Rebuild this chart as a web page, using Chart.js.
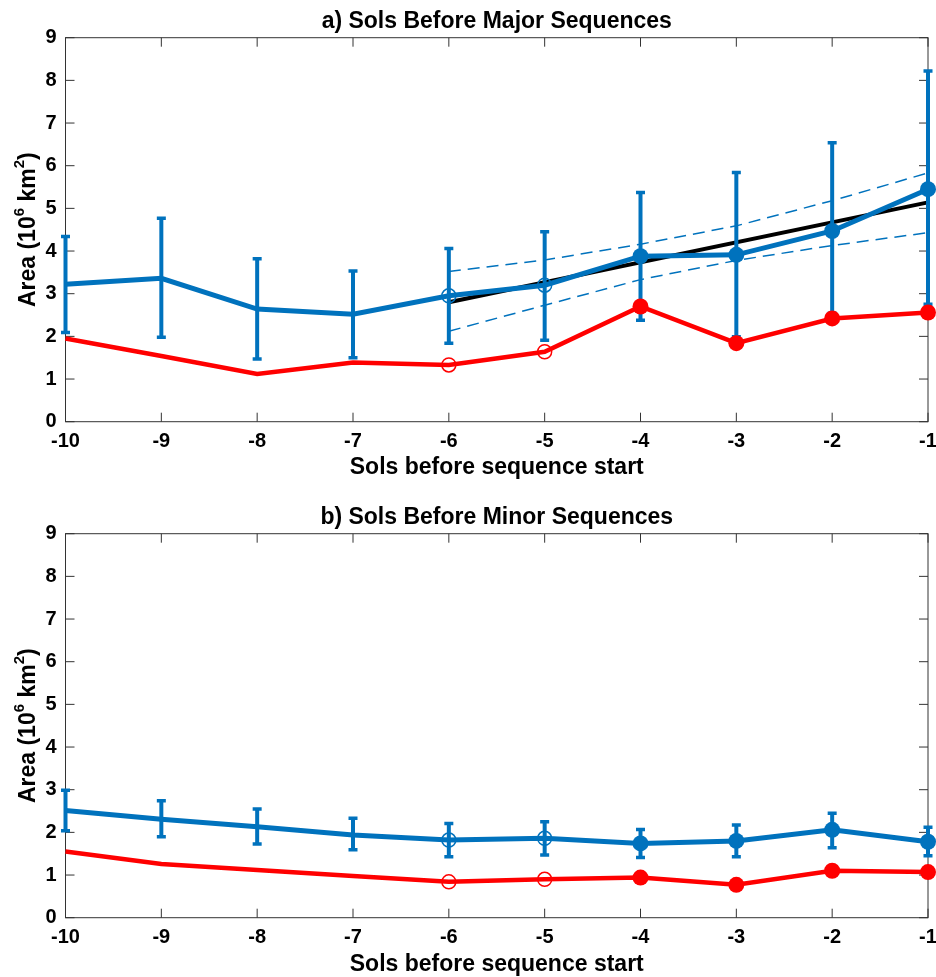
<!DOCTYPE html>
<html>
<head>
<meta charset="utf-8">
<title>Sols before sequences</title>
<script src="https://cdn.jsdelivr.net/npm/chart.js@4.4.1/dist/chart.umd.min.js"></script>
<style>
  html, body { margin: 0; padding: 0; background: #fff; }
  canvas { display: block; }
</style>
</head>
<body>
<canvas id="majorChart" width="936" height="490"></canvas>
<canvas id="minorChart" width="936" height="487"></canvas>
<script>
// x positions (sols before start) and axis ticks
const sols = [-10, -9, -8, -7, -6, -5, -4, -3, -2, -1];
const xTickValues = [-10, -9, -8, -7, -6, -5, -4, -3, -2, -1];
const yTickValues = [0, 1, 2, 3, 4, 5, 6, 7, 8, 9];

// a) major sequences
const majorMean = [3.22, 3.36, 2.64, 2.52, 2.95, 3.20, 3.88, 3.91, 4.47, 5.45];
const majorHigh = [4.34, 4.77, 3.82, 3.53, 4.06, 4.45, 5.37, 5.84, 6.54, 8.22];
const majorLow = [2.09, 1.98, 1.47, 1.50, 1.84, 1.91, 2.38, 1.99, 2.54, 2.75];
const majorRed = [1.95, 1.54, 1.12, 1.39, 1.33, 1.64, 2.70, 1.84, 2.42, 2.56];
const fitSols = [-6, -1];
const majorFit = [2.80, 5.14];
const bandSols = [-6, -5, -4, -3, -2, -1];
const majorUpper = [3.52, 3.79, 4.16, 4.59, 5.18, 5.83];
const majorLower = [2.12, 2.73, 3.33, 3.78, 4.13, 4.43];

// b) minor sequences
const minorMean = [2.51, 2.31, 2.13, 1.94, 1.82, 1.86, 1.74, 1.80, 2.06, 1.78];
const minorHigh = [2.99, 2.74, 2.55, 2.33, 2.21, 2.25, 2.07, 2.17, 2.45, 2.12];
const minorLow = [2.04, 1.90, 1.73, 1.59, 1.43, 1.47, 1.41, 1.43, 1.64, 1.45];
const minorRed = [1.55, 1.26, 1.12, 0.98, 0.84, 0.90, 0.94, 0.77, 1.10, 1.07];

// markers: open circles from -6, filled from -4
const openFrom = -6;
const filledFrom = -4;

// y label pieces: [text, superscript?]
const yLabelParts = [['Area (10', false], ['6', true], [' km', false], ['2', true], [')', false]];

const FONT = "'Liberation Sans', Arial, Helvetica, sans-serif";
const BLUE = '#0072BD';
const RED = '#FF0000';
const TICK = 9;

function points(xs, ys) {
    return xs.map((x, i) => ({ x: x, y: ys[i] }));
}

function markerOpts(color, size) {
    return {
        pointRadius: ctx => ctx.raw.x >= filledFrom ? size : (ctx.raw.x >= openFrom ? size - 1 : 0),
        pointBackgroundColor: ctx => ctx.raw.x >= filledFrom ? color : 'rgba(0,0,0,0)',
        pointBorderColor: color,
        pointBorderWidth: ctx => ctx.raw.x >= filledFrom ? 0 : 1.5,
        pointHoverRadius: 0
    };
}

// box around the plot area with inward ticks on all sides
const axesBox = {
    id: 'axesBox',
    beforeDatasetsDraw(chart) {
        const { ctx, chartArea: a, scales: { x, y } } = chart;
        ctx.save();
        ctx.strokeStyle = '#333';
        ctx.lineWidth = 1;
        ctx.strokeRect(a.left, a.top, a.right - a.left, a.bottom - a.top);
        ctx.beginPath();
        x.ticks.forEach(t => {
            const px = x.getPixelForValue(t.value);
            ctx.moveTo(px, a.bottom); ctx.lineTo(px, a.bottom - TICK);
            ctx.moveTo(px, a.top); ctx.lineTo(px, a.top + TICK);
        });
        y.ticks.forEach(t => {
            const py = y.getPixelForValue(t.value);
            ctx.moveTo(a.left, py); ctx.lineTo(a.left + TICK, py);
            ctx.moveTo(a.right, py); ctx.lineTo(a.right - TICK, py);
        });
        ctx.stroke();
        ctx.restore();
    }
};

const errorBars = {
    id: 'errorBars',
    afterDatasetDraw(chart, args) {
        const ds = chart.data.datasets[args.index];
        if (!ds.errHigh) return;
        const { ctx, scales: { x, y } } = chart;
        ctx.save();
        ctx.strokeStyle = ds.borderColor;
        ds.data.forEach((p, i) => {
            const px = x.getPixelForValue(p.x);
            const top = y.getPixelForValue(ds.errHigh[i]);
            const bot = y.getPixelForValue(ds.errLow[i]);
            ctx.lineWidth = 4;
            ctx.beginPath();
            ctx.moveTo(px, top); ctx.lineTo(px, bot);
            ctx.stroke();
            ctx.lineWidth = 3.5;
            ctx.beginPath();
            ctx.moveTo(px - 4.5, top); ctx.lineTo(px + 4.5, top);
            ctx.moveTo(px - 4.5, bot); ctx.lineTo(px + 4.5, bot);
            ctx.stroke();
        });
        ctx.restore();
    }
};

// title centred over the plot area, y label with real superscripts
const panelText = {
    id: 'panelText',
    afterDraw(chart, args, opts) {
        const { ctx, chartArea: a } = chart;
        ctx.save();
        ctx.fillStyle = '#000';
        ctx.font = 'bold 23px ' + FONT;
        ctx.textAlign = 'center';
        ctx.textBaseline = 'middle';
        ctx.fillText(opts.title, (a.left + a.right) / 2, opts.titleY);

        const big = 'bold 23px ' + FONT;
        const small = 'bold 15px ' + FONT;
        let total = 0;
        yLabelParts.forEach(([t, sup]) => {
            ctx.font = sup ? small : big;
            total += ctx.measureText(t).width;
        });
        ctx.translate(35, (a.top + a.bottom) / 2);
        ctx.rotate(-Math.PI / 2);
        ctx.textAlign = 'left';
        ctx.textBaseline = 'alphabetic';
        let u = -total / 2;
        yLabelParts.forEach(([t, sup]) => {
            ctx.font = sup ? small : big;
            ctx.fillText(t, u, sup ? -11 : 0);
            u += ctx.measureText(t).width;
        });
        ctx.restore();
    }
};

function makeChart(id, p) {
    const datasets = [];
    if (p.fit) {
        datasets.push({
            data: points(fitSols, p.fit), borderColor: '#000', borderWidth: 4,
            pointRadius: 0, order: 4
        });
        datasets.push({
            data: points(bandSols, p.upper), borderColor: BLUE, borderWidth: 1.5,
            borderDash: [12, 7], pointRadius: 0, order: 3
        });
        datasets.push({
            data: points(bandSols, p.lower), borderColor: BLUE, borderWidth: 1.5,
            borderDash: [12, 7], pointRadius: 0, order: 3
        });
    }
    datasets.push(Object.assign({
        data: points(sols, p.mean), borderColor: BLUE, borderWidth: 5,
        errHigh: p.high, errLow: p.low, order: 1
    }, markerOpts(BLUE, 8)));
    datasets.push(Object.assign({
        data: points(sols, p.red), borderColor: RED, borderWidth: 4.5, order: 0
    }, markerOpts(RED, 8)));

    datasets.forEach(d => { d.fill = false; d.tension = 0; d.clip = false; });

    return new Chart(document.getElementById(id), {
        type: 'line',
        data: { datasets: datasets },
        plugins: [axesBox, errorBars, panelText],
        options: {
            responsive: false,
            animation: false,
            events: [],
            layout: { padding: { top: p.top, right: 4, bottom: 0, left: 0 } },
            plugins: {
                legend: { display: false },
                tooltip: { enabled: false },
                panelText: { title: p.title, titleY: p.titleY }
            },
            scales: {
                x: {
                    type: 'linear', min: -10, max: -1,
                    afterBuildTicks: s => { s.ticks = xTickValues.map(v => ({ value: v })); },
                    afterFit: s => { s.height = p.xHeight; s.paddingLeft = 0; s.paddingRight = 0; },
                    grid: { display: false, drawTicks: false },
                    border: { display: false },
                    ticks: {
                        color: '#000', padding: 8, maxRotation: 0, autoSkip: false,
                        font: { family: FONT, size: 20, weight: 'bold', lineHeight: 1.2 },
                        callback: v => String(v)
                    },
                    title: {
                        display: true, text: 'Sols before sequence start', color: '#000',
                        font: { family: FONT, size: 23, weight: 'bold', lineHeight: 1.2 },
                        padding: { top: 0, bottom: p.xTitlePad }
                    }
                },
                y: {
                    type: 'linear', min: 0, max: 9,
                    afterBuildTicks: s => { s.ticks = yTickValues.map(v => ({ value: v })); },
                    afterFit: s => { s.width = 65.5; s.paddingTop = 0; s.paddingBottom = 0; },
                    grid: { display: false, drawTicks: false },
                    border: { display: false },
                    ticks: {
                        color: '#000', padding: 9,
                        font: { family: FONT, size: 20, weight: 'bold', lineHeight: 1.2 },
                        callback: v => String(v)
                    }
                }
            }
        }
    });
}

makeChart('majorChart', {
    title: 'a) Sols Before Major Sequences', titleY: 21.7, top: 37.7,
    xHeight: 68.3, xTitlePad: 8.7,
    mean: majorMean, high: majorHigh, low: majorLow, red: majorRed,
    fit: majorFit, upper: majorUpper, lower: majorLower
});

makeChart('minorChart', {
    title: 'b) Sols Before Minor Sequences', titleY: 27.5, top: 43.7,
    xHeight: 59.3, xTitlePad: -1,
    mean: minorMean, high: minorHigh, low: minorLow, red: minorRed
});
</script>
</body>
</html>
